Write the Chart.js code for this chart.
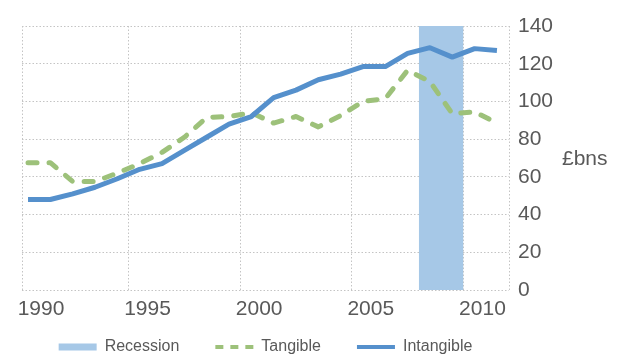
<!DOCTYPE html>
<html>
<head>
<meta charset="utf-8">
<script src="https://cdn.jsdelivr.net/npm/chart.js@4.4.1/dist/chart.umd.min.js"></script>
<style>
  html, body { margin: 0; padding: 0; background: #fff; }
  #wrap { width: 624px; height: 354px; position: relative; }
</style>
</head>
<body>
<div id="wrap"><canvas id="investChart"></canvas></div>
<script>
// values, £bns
const years = [1990, 1991, 1992, 1993, 1994, 1995, 1996, 1997, 1998, 1999, 2000,
  2001, 2002, 2003, 2004, 2005, 2006, 2007, 2008, 2009, 2010, 2011];
const intangible = [48, 48, 51, 54.5, 59, 64, 67, 74, 81, 88, 92,
  102, 106, 111.5, 114.5, 118.5, 118.5, 125.5, 128.5, 123.5, 128, 127];
const tangible = [67.5, 67.5, 57.5, 57.5, 62, 67, 73, 81, 91.5, 92, 94,
  88.5, 92, 86.5, 92.5, 100, 101.5, 116.5, 110.5, 93.5, 94.5, 88.5];
const recessionSpan = [2007.5, 2009.5];
const recessionTop = 140;

const xTickLabels = ["1990", "1995", "2000", "2005", "2010"];
const xGridYears = [1994.5, 1999.5, 2004.5, 2009.5];
const yTicks = { min: 0, max: 140, step: 20 };

const textColor = "#595959";
const fontFamily = "'Liberation Sans', Arial, Helvetica, sans-serif";

const toPoints = (vals) => vals.map((v, i) => ({ x: years[i], y: v }));

// "£bns" sits to the right of the value axis, unrotated
const unitLabel = {
  id: "unitLabel",
  afterDraw(chart) {
    const ctx = chart.ctx;
    ctx.save();
    ctx.font = "21px " + fontFamily;
    ctx.fillStyle = textColor;
    ctx.textBaseline = "middle";
    ctx.textAlign = "left";
    ctx.fillText("£bns", 562, 159);
    ctx.restore();
  },
};

// legend centred under the plot, year labels allowed to run past the thin x box
const layoutTweaks = {
  id: "layoutTweaks",
  afterLayout(chart) {
    chart.scales.x.bottom = chart.height;
    if (!chart.legend) return;
    chart.legend.left = chart.chartArea.left;
    chart.legend.right = chart.chartArea.right;
  },
};

const ctx = document.getElementById("investChart").getContext("2d");
new Chart(ctx, {
  type: "line",
  data: {
    datasets: [
      {
        label: "Recession",
        data: recessionSpan.map((x) => ({ x, y: recessionTop })),
        borderWidth: 0,
        borderColor: "rgba(0,0,0,0)",
        backgroundColor: "#a6c8e7",
        fill: "origin",
        pointRadius: 0,
        pointStyle: "rect",
        order: 3,
      },
      {
        label: "Tangible",
        data: toPoints(tangible),
        borderColor: "#9dc17a",
        backgroundColor: "#9dc17a",
        borderWidth: 5,
        borderDash: [9, 12],
        borderCapStyle: "round",
        borderJoinStyle: "round",
        pointRadius: 0,
        pointStyle: "line",
        tension: 0,
        order: 2,
      },
      {
        label: "Intangible",
        data: toPoints(intangible),
        borderColor: "#5590cc",
        backgroundColor: "#5590cc",
        borderWidth: 5,
        borderJoinStyle: "round",
        pointRadius: 0,
        pointStyle: "line",
        tension: 0,
        order: 1,
      },
    ],
  },
  options: {
    responsive: true,
    maintainAspectRatio: false,
    animation: false,
    layout: { padding: { left: 22, top: 26, right: 0, bottom: 0 } },
    plugins: {
      tooltip: { enabled: false },
      legend: {
        position: "bottom",
        maxHeight: 51,
        labels: {
          usePointStyle: true,
          pointStyleWidth: 38,
          boxHeight: 7,
          padding: 36,
          color: textColor,
          font: { family: fontFamily, size: 16 },
          sort: (a, b) => a.datasetIndex - b.datasetIndex,
          // short dashes in the key, like the original
          generateLabels: (chart) =>
            Chart.defaults.plugins.legend.labels.generateLabels(chart).map((item) => ({
              ...item,
              lineDash: chart.data.datasets[item.datasetIndex].borderDash ? [8, 7] : [],
              lineCap: "butt",
              lineWidth: item.datasetIndex === 0 ? 0 : 4,
            })),
        },
      },
    },
    scales: {
      x: {
        type: "linear",
        min: 1989.73,
        max: 2011.54,
        afterBuildTicks: (axis) => {
          axis.ticks = [axis.min, ...xGridYears, axis.max].map((v) => ({ value: v }));
        },
        afterFit: (axis) => {
          axis.height = 13;
          axis.paddingLeft = 0;
          axis.paddingRight = 0;
        },
        grid: { color: "#c4c4c4", lineWidth: 1, drawTicks: false },
        border: { display: false, dash: [1.5, 2] },
        ticks: {
          autoSkip: false,
          maxRotation: 0,
          labelOffset: 19,
          padding: 7,
          color: textColor,
          font: { family: fontFamily, size: 21 },
          callback: (value, index) => xTickLabels[index] ?? "",
        },
      },
      y: {
        position: "right",
        min: yTicks.min,
        max: yTicks.max,
        afterFit: (axis) => {
          axis.width = 115;
        },
        grid: { color: "#c4c4c4", lineWidth: 1, drawTicks: false },
        border: { display: false, dash: [1.5, 2] },
        ticks: {
          stepSize: yTicks.step,
          padding: 9,
          color: textColor,
          font: { family: fontFamily, size: 21 },
        },
      },
    },
  },
  plugins: [unitLabel, layoutTweaks],
});
</script>
</body>
</html>
